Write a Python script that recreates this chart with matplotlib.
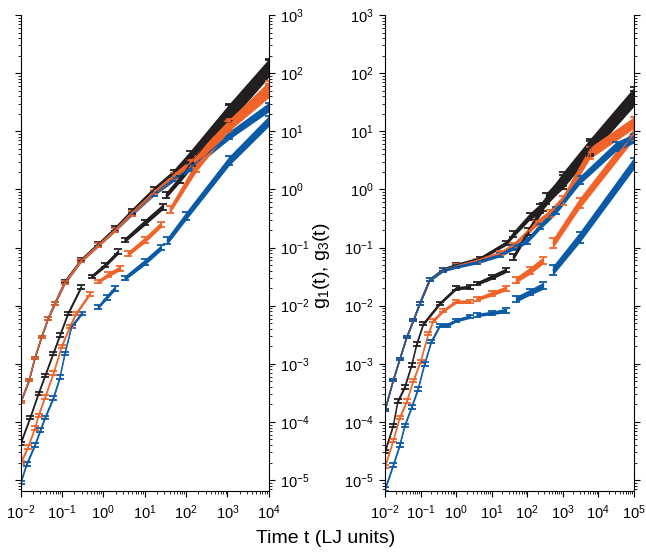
import matplotlib
matplotlib.use('Agg')
import matplotlib.pyplot as plt
import matplotlib.ticker as mticker
import numpy as np

plt.rcParams['font.family'] = ['Liberation Sans', 'DejaVu Sans']
plt.rcParams['mathtext.fontset'] = 'custom'
plt.rcParams['mathtext.rm'] = 'Liberation Sans'
plt.rcParams['mathtext.it'] = 'Liberation Sans:italic'
plt.rcParams['axes.unicode_minus'] = False

nan = (np.nan, np.nan, np.nan)

# rows: (time, g, half-width of the error bars in decades); nan rows split chunks
# left panel, t up to 1e4
left_g1_black = [
    (0.01, 2.2e-4, 0.02), (0.016, 5.2e-4, 0.02), (0.022, 1.25e-3, 0.02),
    (0.032, 2.9e-3, 0.02), (0.046, 6.0e-3, 0.02), (0.067, 0.011, 0.03),
    (0.117, 0.026, 0.03), (0.29, 0.062, 0.03), (0.75, 0.115, 0.03),
    (1.9, 0.21, 0.04), (4.8, 0.42, 0.04), (17, 1.0, 0.05), (50, 1.9, 0.06),
    (123, 3.6, 0.1), (1100, 21, 0.15), (10000, 125, 0.15)]
left_g1_blue = [
    (0.01, 2.2e-4, 0.02), (0.016, 5.2e-4, 0.02), (0.022, 1.25e-3, 0.02),
    (0.032, 2.9e-3, 0.02), (0.046, 6.0e-3, 0.02), (0.067, 0.011, 0.03),
    (0.117, 0.025, 0.03), (0.29, 0.06, 0.03), (0.75, 0.11, 0.03),
    (1.9, 0.2, 0.03), (4.8, 0.38, 0.04), (17, 0.86, 0.04), (50, 1.5, 0.04),
    (123, 2.3, 0.05), (1100, 8.5, 0.07), (10000, 26, 0.08)]
left_g1_orange = [
    (0.01, 2.2e-4, 0.02), (0.016, 5.2e-4, 0.02), (0.022, 1.25e-3, 0.02),
    (0.032, 2.9e-3, 0.02), (0.046, 6.0e-3, 0.02), (0.067, 0.011, 0.03),
    (0.117, 0.025, 0.03), (0.29, 0.06, 0.03), (0.75, 0.11, 0.03),
    (1.9, 0.2, 0.03), (4.8, 0.39, 0.04), (17, 0.9, 0.04), (50, 1.7, 0.05),
    (123, 2.8, 0.06), (1100, 13, 0.09), (10000, 55, 0.12)]
left_g3_black = [
    (0.01, 4.3e-5, 0.03), (0.017, 1.2e-4, 0.03), (0.027, 3.1e-4, 0.03),
    (0.039, 6.3e-4, 0.03), (0.061, 1.5e-3, 0.03), (0.089, 3.1e-3, 0.03),
    (0.14, 7.4e-3, 0.03), (0.29, 0.021, 0.03), nan,
    (0.52, 0.032, 0.03), (1.1, 0.05, 0.04), (2.3, 0.085, 0.04), nan,
    (3.3, 0.135, 0.04), (10, 0.27, 0.05), (27, 0.5, 0.05), nan,
    (33, 0.8, 0.05), (70, 1.5, 0.06), (150, 3.2, 0.1), (1100, 20, 0.15),
    (10000, 120, 0.15)]
left_g3_orange = [
    (0.01, 2e-5, 0.03), (0.015, 3.7e-5, 0.03), (0.022, 7.8e-5, 0.03),
    (0.027, 1.3e-4, 0.03), (0.039, 2.7e-4, 0.03), (0.062, 6.9e-4, 0.03),
    (0.098, 2e-3, 0.03), (0.155, 4.4e-3, 0.03), (0.22, 7.4e-3, 0.03),
    (0.47, 0.016, 0.03), nan,
    (0.75, 0.026, 0.03), (1.3, 0.034, 0.04), (2.5, 0.044, 0.04), nan,
    (4.0, 0.079, 0.04), (10, 0.135, 0.05), (25, 0.25, 0.05), nan,
    (41, 0.45, 0.06), (178, 2.5, 0.09), (1000, 12, 0.1), (10000, 50, 0.12)]
left_g3_blue = [
    (0.01, 9e-6, 0.03), (0.014, 1.9e-5, 0.03), (0.022, 4e-5, 0.03),
    (0.03, 7.2e-5, 0.03), (0.039, 1.2e-4, 0.03), (0.062, 2.6e-4, 0.03),
    (0.089, 5.9e-4, 0.03), (0.117, 1.5e-3, 0.03), (0.17, 4.4e-3, 0.03),
    (0.3, 7.4e-3, 0.03), nan,
    (0.75, 0.0095, 0.03), (1.2, 0.014, 0.04), (1.9, 0.02, 0.04), nan,
    (3.3, 0.03, 0.04), (10, 0.056, 0.05), (25, 0.1, 0.05), nan,
    (35, 0.13, 0.06), (100, 0.35, 0.07), (1100, 3.1, 0.08), (10000, 15, 0.09)]

# right panel, t up to 1e5
right_g1_black = [
    (0.01, 1.6e-4, 0.02), (0.017, 5.2e-4, 0.02), (0.026, 1.2e-3, 0.02),
    (0.041, 2.9e-3, 0.02), (0.063, 5.6e-3, 0.02), (0.095, 0.011, 0.03),
    (0.18, 0.028, 0.03), (0.43, 0.042, 0.03), (1.0, 0.05, 0.03),
    (4.7, 0.065, 0.03), (26, 0.12, 0.04), (41, 0.17, 0.05), (117, 0.34, 0.06),
    (230, 0.47, 0.08), (1020, 1.5, 0.12), (5700, 5.4, 0.13),
    (100000, 42, 0.13)]
right_g1_orange = [
    (0.01, 1.6e-4, 0.02), (0.017, 5.2e-4, 0.02), (0.026, 1.2e-3, 0.02),
    (0.041, 2.9e-3, 0.02), (0.063, 5.6e-3, 0.02), (0.095, 0.011, 0.03),
    (0.18, 0.028, 0.03), (0.43, 0.041, 0.03), (1.0, 0.048, 0.03),
    (3.8, 0.06, 0.03), (17, 0.08, 0.03), (41, 0.11, 0.04), (180, 0.26, 0.05),
    (430, 0.39, 0.06), (1000, 0.65, 0.08), (5700, 4.2, 0.1),
    (100000, 14, 0.1)]
right_g1_blue = [
    (0.01, 1.6e-4, 0.02), (0.017, 5.2e-4, 0.02), (0.026, 1.2e-3, 0.02),
    (0.041, 2.9e-3, 0.02), (0.063, 5.6e-3, 0.02), (0.095, 0.011, 0.03),
    (0.18, 0.028, 0.03), (0.43, 0.041, 0.03), (1.0, 0.047, 0.03),
    (3.8, 0.056, 0.03), (17, 0.074, 0.03), (41, 0.10, 0.04), (96, 0.13, 0.05),
    (230, 0.23, 0.05), (660, 0.44, 0.06), (3000, 1.44, 0.07),
    (32000, 5.5, 0.08), (100000, 7.5, 0.08)]
right_g3_black = [
    (0.01, 3.1e-5, 0.03), (0.017, 8.7e-5, 0.03), (0.023, 2.3e-4, 0.03),
    (0.036, 4e-4, 0.03), (0.056, 9.5e-4, 0.03), (0.078, 2.2e-3, 0.03),
    (0.12, 4.9e-3, 0.03), (0.35, 0.011, 0.03), (1.0, 0.02, 0.03),
    (2.5, 0.021, 0.03), nan,
    (3.8, 0.024, 0.03), (10, 0.031, 0.04), (26, 0.041, 0.04), nan,
    (41, 0.069, 0.05), (107, 0.19, 0.06), (280, 0.5, 0.07), nan,
    (350, 0.7, 0.1), (1000, 1.35, 0.12), (5700, 5.0, 0.13), (100000, 36, 0.13)]
right_g3_orange = [
    (0.01, 1.7e-5, 0.03), (0.017, 4.8e-5, 0.03), (0.026, 1.2e-4, 0.03),
    (0.041, 2.3e-4, 0.03), (0.063, 5.2e-4, 0.03), (0.1, 1.1e-3, 0.03),
    (0.165, 3.3e-3, 0.03), (0.23, 5.6e-3, 0.03), (0.44, 8.3e-3, 0.03),
    (1.0, 0.0117, 0.03), (2.5, 0.0117, 0.03), nan,
    (3.8, 0.013, 0.03), (10, 0.016, 0.04), (26, 0.02, 0.04), nan,
    (50, 0.028, 0.05), (120, 0.04, 0.06), (280, 0.06, 0.06), nan,
    (540, 0.12, 0.08), (3000, 0.58, 0.09), (100000, 9, 0.1)]
right_g3_blue = [
    (0.01, 7e-6, 0.03), (0.017, 1.8e-5, 0.03), (0.026, 4e-5, 0.03),
    (0.036, 8.7e-5, 0.03), (0.056, 1.8e-4, 0.03), (0.085, 3.7e-4, 0.03),
    (0.13, 1e-3, 0.03), (0.2, 2.4e-3, 0.03), (0.35, 4.6e-3, 0.03),
    (0.54, 4.6e-3, 0.03), (1.0, 5.6e-3, 0.03), (2.5, 6.5e-3, 0.03), nan,
    (3.8, 6.9e-3, 0.03), (10, 7.5e-3, 0.03), (26, 8.3e-3, 0.04), nan,
    (50, 0.013, 0.05), (120, 0.017, 0.05), (280, 0.022, 0.06), nan,
    (540, 0.041, 0.08), (3000, 0.15, 0.09), (100000, 2.8, 0.1)]

black = '#231f20'
orange = '#f0642a'
blue = '#0a5aa6'


def draw_curve(ax, rows, color):
    arr = np.array(rows, dtype=float)
    cuts = np.where(np.isnan(arr[:, 0]))[0]
    for chunk in np.split(arr, cuts):
        chunk = chunk[~np.isnan(chunk[:, 0])]
        if len(chunk) == 0:
            continue
        t, g, d = chunk.T
        lo = g * 10 ** -d
        hi = g * 10 ** d
        ax.fill_between(t, lo, hi, color=color, lw=0)
        ax.errorbar(t, g, yerr=[g - lo, hi - g], color=color, lw=0.9,
                    elinewidth=0.9, capsize=3, capthick=1.3)


def style_axes(ax, xmax, label_side):
    ax.set_xscale('log')
    ax.set_yscale('log')
    ax.set_xlim(1e-2, xmax)
    ax.set_ylim(6.5e-6, 1e3)
    ax.spines['top'].set_visible(False)
    for a in (ax.xaxis, ax.yaxis):
        a.set_major_locator(mticker.LogLocator(base=10, numticks=100))
        a.set_minor_locator(mticker.LogLocator(base=10, subs=np.arange(2, 10),
                                               numticks=100))
    ax.tick_params(which='both', direction='out', labelsize=10.5)
    ax.tick_params(which='major', length=4)
    ax.tick_params(which='minor', length=2.5)
    if label_side == 'right':
        ax.yaxis.tick_right()
        ax.tick_params(axis='y', which='both', left=True, direction='out')
    else:
        ax.tick_params(axis='y', which='both', right=True, direction='out')
    ax.tick_params(axis='y', pad=4)
    ax.tick_params(axis='x', top=False, pad=5)


fig = plt.figure(figsize=(6.46, 5.56), dpi=100)
ax_l = fig.add_axes([0.032, 0.117, 0.384, 0.856])
ax_r = fig.add_axes([0.596, 0.117, 0.385, 0.856])

draw_curve(ax_l, left_g1_black, black)
draw_curve(ax_l, left_g3_black, black)
draw_curve(ax_l, left_g1_blue, blue)
draw_curve(ax_l, left_g3_blue, blue)
draw_curve(ax_l, left_g1_orange, orange)
draw_curve(ax_l, left_g3_orange, orange)

draw_curve(ax_r, right_g1_black, black)
draw_curve(ax_r, right_g3_black, black)
draw_curve(ax_r, right_g1_orange, orange)
draw_curve(ax_r, right_g3_orange, orange)
draw_curve(ax_r, right_g1_blue, blue)
draw_curve(ax_r, right_g3_blue, blue)

style_axes(ax_l, 1e4, 'right')
style_axes(ax_r, 1e5, 'left')

fig.text(0.504, 0.032, 'Time t (LJ units)', ha='center', va='center',
         fontsize=14)
fig.text(0.498, 0.523, 'g$_1$(t), g$_3$(t)', ha='center', va='center',
         rotation=90, fontsize=14)

fig.savefig('out.png', dpi=100)
